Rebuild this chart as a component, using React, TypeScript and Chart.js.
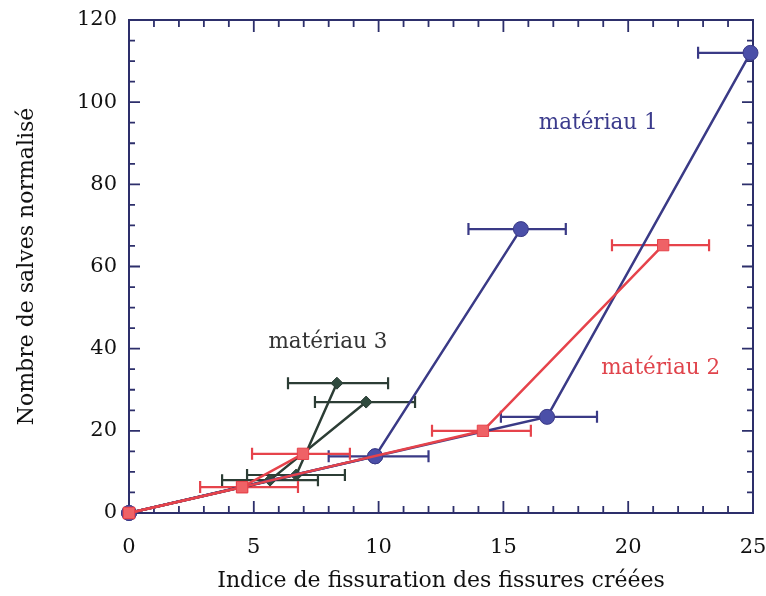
import React, { useEffect, useRef } from "react";
import { Chart, registerables } from "chart.js";
Chart.register(...registerables);

// ---- Data ----
const xMin = 0, xMax = 25, xStep = 5;
const yMin = 0, yMax = 120, yStep = 20;

// matériau 1 (blue, circles) — two branches
const blueAX = [0, 9.86, 15.7];
const blueAY = [0, 13.8, 69.1];
const blueALo = [null, 8.0, 13.6];
const blueAHi = [null, 12.0, 17.5];

const blueBX = [0, 9.86, 16.75, 24.9];
const blueBY = [0, 13.8, 23.4, 112];
const blueBLo = [null, null, 14.9, 22.8];
const blueBHi = [null, null, 18.75, 27.0];

// matériau 2 (red, squares) — two branches
const redAX = [0, 4.53, 6.97];
const redAY = [0, 6.3, 14.4];
const redALo = [null, 2.85, 4.93];
const redAHi = [null, 6.77, 8.85];

const redBX = [0, 4.53, 14.18, 21.4];
const redBY = [0, 6.3, 20.0, 65.2];
const redBLo = [null, null, 12.14, 19.35];
const redBHi = [null, null, 16.1, 23.24];

// matériau 3 (dark green, diamonds) — two branches
const greenAX = [0, 5.65, 9.5];
const greenAY = [0, 8.0, 27.0];
const greenALo = [null, 3.73, 7.45];
const greenAHi = [null, 7.57, 11.46];

const greenBX = [0, 6.7, 8.33];
const greenBY = [0, 9.25, 31.6];
const greenBLo = [null, 4.73, 6.37];
const greenBHi = [null, 8.65, 10.38];

const labels = [
  { text: "matériau 1", x: 18.8, y: 94.9, color: "#3b3b8c" },
  { text: "matériau 2", x: 21.3, y: 35.3, color: "#e0444c" },
  { text: "matériau 3", x: 7.97, y: 41.4, color: "#333333" },
];

const xTitle = "Indice de fissuration des fissures créées";
const yTitle = "Nombre de salves normalisé";

// ---- Styles ----
const BLUE_LINE = "#3a3a86";
const BLUE_FILL = "#4b4fa8";
const RED_LINE = "#e6434b";
const RED_FILL = "#ef6266";
const GREEN_LINE = "#2c3d35";
const GREEN_FILL = "#2f4a3e";
const FRAME = "#2d2f6b";
const FONT = "'DejaVu Serif', serif";
const TEXT = "#111111";

const toPts = (xs: number[], ys: number[]) => xs.map((x, i) => ({ x, y: ys[i] }));

function ds(label: string, xs: number[], ys: number[], lo: any[], hi: any[], line: string, fill: string, style: string, radius: number) {
  return {
    label,
    data: toPts(xs, ys),
    errLo: lo,
    errHi: hi,
    borderColor: line,
    backgroundColor: fill,
    pointBackgroundColor: fill,
    pointBorderColor: line,
    pointBorderWidth: 1,
    pointStyle: style,
    pointRadius: radius,
    borderWidth: 2.5,
    showLine: true,
    clip: false as any,
  };
}

const errorBarPlugin = {
  id: "errorBars",
  beforeDatasetsDraw(chart: any) {
    const { ctx, chartArea } = chart;
    const xs = chart.scales.x;
    const ys = chart.scales.y;
    ctx.save();
    ctx.beginPath();
    ctx.rect(chartArea.left - 2, chartArea.top - 10, chartArea.right - chartArea.left + 3, chartArea.bottom - chartArea.top + 20);
    ctx.clip();
    const n = chart.data.datasets.length;
    for (let d = n - 1; d >= 0; d--) {
      const dset: any = chart.data.datasets[d];
      ctx.strokeStyle = dset.borderColor;
      ctx.lineWidth = 2.2;
      dset.data.forEach((p: any, i: number) => {
        const lo = dset.errLo[i];
        const hi = dset.errHi[i];
        if (lo == null || hi == null) return;
        const y = ys.getPixelForValue(p.y);
        const x0 = xs.getPixelForValue(lo);
        const x1 = xs.getPixelForValue(hi);
        ctx.beginPath();
        ctx.moveTo(x0, y);
        ctx.lineTo(x1, y);
        ctx.moveTo(x0, y - 6);
        ctx.lineTo(x0, y + 6);
        ctx.moveTo(x1, y - 6);
        ctx.lineTo(x1, y + 6);
        ctx.stroke();
      });
    }
    ctx.restore();
  },
};

const framePlugin = {
  id: "frame",
  beforeDatasetsDraw(chart: any) {
    const { ctx, chartArea } = chart;
    const { left, right, top, bottom } = chartArea;
    const xs = chart.scales.x;
    const ys = chart.scales.y;
    ctx.save();
    ctx.strokeStyle = FRAME;
    ctx.lineWidth = 2;
    ctx.strokeRect(left, top, right - left, bottom - top);
    ctx.lineWidth = 1.8;
    ctx.beginPath();
    for (let v = xMin + 1; v < xMax; v++) {
      const px = xs.getPixelForValue(v);
      const len = v % xStep === 0 ? 12 : 7;
      ctx.moveTo(px, bottom);
      ctx.lineTo(px, bottom - len);
      ctx.moveTo(px, top);
      ctx.lineTo(px, top + len);
    }
    for (let v = yMin + 5; v < yMax; v += 5) {
      const py = ys.getPixelForValue(v);
      const len = v % yStep === 0 ? 11 : 6;
      ctx.moveTo(left, py);
      ctx.lineTo(left + len, py);
      ctx.moveTo(right, py);
      ctx.lineTo(right - len, py);
    }
    ctx.stroke();
    ctx.restore();
  },
  afterDatasetsDraw(chart: any) {
    const { ctx } = chart;
    const xs = chart.scales.x;
    const ys = chart.scales.y;
    ctx.save();
    ctx.font = `21.5px ${FONT}`;
    ctx.textAlign = "center";
    ctx.textBaseline = "middle";
    labels.forEach((l) => {
      ctx.fillStyle = l.color;
      ctx.fillText(l.text, xs.getPixelForValue(l.x), ys.getPixelForValue(l.y));
    });
    ctx.restore();
  },
};

export default function App() {
  const ref = useRef<HTMLCanvasElement>(null);
  useEffect(() => {
    if (!ref.current) return;
    const chart = new Chart(ref.current, {
      type: "scatter",
      data: {
        datasets: [
          ds("m2a", redAX, redAY, redALo, redAHi, RED_LINE, RED_FILL, "rect", 8),
          ds("m2b", redBX, redBY, redBLo, redBHi, RED_LINE, RED_FILL, "rect", 8),
          ds("m1a", blueAX, blueAY, blueALo, blueAHi, BLUE_LINE, BLUE_FILL, "circle", 7.5),
          ds("m1b", blueBX, blueBY, blueBLo, blueBHi, BLUE_LINE, BLUE_FILL, "circle", 7.5),
          ds("m3a", greenAX, greenAY, greenALo, greenAHi, GREEN_LINE, GREEN_FILL, "rectRot", 6),
          ds("m3b", greenBX, greenBY, greenBLo, greenBHi, GREEN_LINE, GREEN_FILL, "rectRot", 6),
        ] as any,
      },
      options: {
        animation: false,
        responsive: false,
        maintainAspectRatio: false,
        layout: { padding: { left: 0, top: 20, right: 13, bottom: 0 } },
        plugins: { legend: { display: false }, tooltip: { enabled: false } },
        scales: {
          x: {
            type: "linear",
            min: xMin,
            max: xMax,
            ticks: { stepSize: xStep, font: { family: FONT, size: 21 }, color: TEXT, padding: 14 },
            grid: { display: false },
            border: { display: false },
            title: { display: true, text: xTitle, font: { family: FONT, size: 22 }, color: TEXT, padding: { top: 0, bottom: 2 } },
            afterFit(s: any) {
              s.height = 83;
              s.paddingLeft = 0;
              s.paddingRight = 0;
            },
          },
          y: {
            type: "linear",
            min: yMin,
            max: yMax,
            ticks: { stepSize: yStep, font: { family: FONT, size: 21 }, color: TEXT, padding: 4 },
            grid: { display: false },
            border: { display: false },
            title: { display: true, text: yTitle, font: { family: FONT, size: 22 }, color: TEXT, padding: { top: 14, bottom: 0 } },
            afterFit(s: any) {
              s.width = 129;
              s.paddingTop = 0;
              s.paddingBottom = 0;
            },
          },
        },
      } as any,
      plugins: [errorBarPlugin, framePlugin],
    });
    return () => chart.destroy();
  }, []);
  return (
    <div style={{ position: "absolute", left: 0, top: 0, width: 766, height: 596, background: "#fff" }}>
      <canvas ref={ref} width={766} height={596} style={{ display: "block" }} />
    </div>
  );
}
